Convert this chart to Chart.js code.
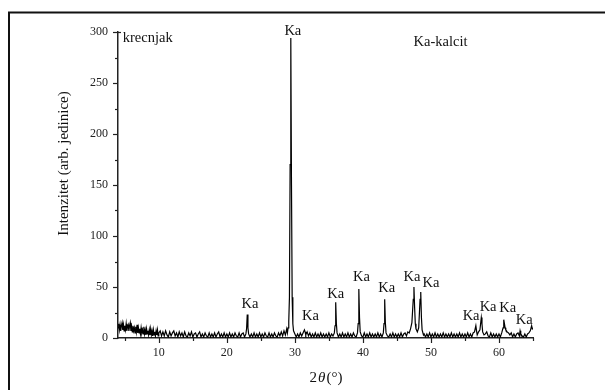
<!DOCTYPE html>
<html>
<head>
<meta charset="utf-8">
<script src="https://cdn.jsdelivr.net/npm/chart.js@4/dist/chart.umd.min.js"></script>
<style>
  html, body { margin: 0; padding: 0; background: #fff; }
  #canvas { display: block; }
</style>
</head>
<body>
<canvas id="canvas" width="605" height="390"></canvas>
<script>
// 2theta (deg), intensity (arb.)
const scanLow = [
  [4.0,10],[4.1,14],[4.2,8],[4.3,13],[4.4,7],[4.5,12],[4.6,15],[4.7,8],[4.8,13],[4.9,7],
  [5.0,12],[5.1,8],[5.2,14],[5.3,7],[5.4,11],[5.5,13],[5.6,7],[5.7,12],[5.8,15],[5.9,7],
  [6.0,11],[6.1,6],[6.2,12],[6.3,7],[6.4,10],[6.5,5],[6.6,11],[6.7,6],[6.8,13],[6.9,5],
  [7.0,10],[7.1,5],[7.2,9],[7.3,4],[7.4,10],[7.5,5],[7.6,8],[7.7,4],[7.8,11],[7.9,4],
  [8.0,8],[8.1,3],[8.2,9],[8.3,4],[8.4,7],[8.5,3],[8.6,8],[8.7,3],[8.8,9],[8.9,3],
  [9.0,7],[9.1,2],[9.2,8],[9.3,3],[9.4,6],[9.5,2],[9.6,7],[9.7,3],[9.8,8],[9.9,2]
];
const scanMid = [
  [10.0,5],[10.2,7],[10.4,2],[10.6,6],[10.8,2],[11.0,7],[11.2,3],[11.4,1],[11.6,6],[11.8,2],
  [12.0,5],[12.2,7],[12.4,2],[12.6,5],[12.8,1],[13.0,6],[13.2,2],[13.4,5],[13.6,1],[13.8,6],
  [14.0,2],[14.2,1],[14.4,5],[14.6,2],[14.8,6],[15.0,1],[15.2,4],[15.4,5],[15.6,1],[15.8,4],
  [16.0,6],[16.2,1],[16.4,4],[16.6,1],[16.8,5],[17.0,2],[17.2,1],[17.4,5],[17.6,1],[17.8,4],
  [18.0,1],[18.2,5],[18.4,1],[18.6,4],[18.8,6],[19.0,1],[19.2,4],[19.4,1],[19.6,5],[19.8,1],
  [20.0,4],[20.2,1],[20.4,5],[20.6,1],[20.8,4],[21.0,1],[21.2,5],[21.4,2],[21.6,1],[21.8,5],
  [22.0,1],[22.2,4],[22.4,5],[22.6,1],[22.8,4],[22.9,9],[23.0,23],[23.1,10],[23.2,4],[23.4,1],
  [23.6,4],[23.8,1],[24.0,5],[24.2,1],[24.4,4],[24.6,1],[24.8,5],[25.0,1],[25.2,4],[25.4,1],
  [25.6,5],[25.8,2],[26.0,1],[26.2,5],[26.4,1],[26.6,4],[26.8,1],[27.0,5],[27.2,2],[27.4,1],
  [27.6,5],[27.8,2],[28.0,6],[28.2,2],[28.4,7],[28.6,3],[28.8,9],[28.9,5],[29.0,10],[29.1,16],
  [29.2,40],[29.3,170],[29.4,294],[29.5,150],[29.6,40],[29.7,14],[29.8,7]
];
const scanHigh = [
  [30.0,4],[30.2,1],[30.4,4],[30.6,1],[30.8,5],[31.0,2],[31.2,5],[31.4,8],[31.5,6],[31.6,3],
  [31.8,6],[32.0,2],[32.2,5],[32.4,1],[32.6,4],[32.8,1],[33.0,5],[33.2,1],[33.4,4],[33.6,1],
  [33.8,5],[34.0,1],[34.2,4],[34.4,1],[34.6,4],[34.8,1],[35.0,5],[35.2,1],[35.4,4],[35.6,2],
  [35.8,5],[35.9,12],[36.0,35],[36.1,14],[36.2,5],[36.4,1],[36.6,4],[36.8,1],[37.0,5],[37.2,1],
  [37.4,4],[37.6,1],[37.8,5],[38.0,1],[38.2,4],[38.4,1],[38.6,5],[38.8,2],[39.0,1],[39.2,5],
  [39.3,14],[39.4,48],[39.5,20],[39.6,6],[39.8,2],[40.0,1],[40.2,5],[40.4,1],[40.6,4],[40.8,1],
  [41.0,5],[41.2,1],[41.4,4],[41.6,1],[41.8,4],[42.0,1],[42.2,5],[42.4,1],[42.6,4],[42.8,1],
  [43.0,5],[43.1,14],[43.2,38],[43.3,15],[43.4,5],[43.6,2],[43.8,1],[44.0,4],[44.2,1],[44.4,5],
  [44.6,1],[44.8,4],[45.0,1],[45.2,4],[45.4,1],[45.6,5],[45.8,1],[46.0,4],[46.2,5],[46.4,2],
  [46.6,6],[46.8,5],[47.0,9],[47.2,15],[47.4,38],[47.5,50],[47.6,30],[47.7,14],[47.8,9],[48.0,6],
  [48.2,10],[48.4,38],[48.5,45],[48.6,20],[48.7,8],[48.9,3],[49.0,4],[49.2,1],[49.4,4],[49.6,1],
  [49.8,5],[50.0,1],[50.2,4],[50.4,1],[50.6,5],[50.8,1],[51.0,4],[51.2,1],[51.4,4],[51.6,1],
  [51.8,5],[52.0,1],[52.2,4],[52.4,1],[52.6,4],[52.8,1],[53.0,5],[53.2,1],[53.4,4],[53.6,1],
  [53.8,4],[54.0,1],[54.2,5],[54.4,1],[54.6,4],[54.8,1],[55.0,4],[55.2,1],[55.4,5],[55.6,1],
  [55.8,4],[56.0,1],[56.2,5],[56.4,6],[56.6,12],[56.7,7],[56.8,3],[57.0,6],[57.2,8],[57.4,20],
  [57.5,14],[57.6,6],[57.8,3],[58.0,4],[58.2,6],[58.4,2],[58.6,1],[58.8,5],[59.0,1],[59.2,4],
  [59.4,1],[59.6,4],[59.8,1],[60.0,4],[60.2,1],[60.4,5],[60.6,10],[60.7,18],[60.8,14],[60.9,10],
  [61.0,8],[61.2,6],[61.4,5],[61.6,3],[61.8,5],[62.0,1],[62.2,4],[62.4,1],[62.6,4],[62.8,5],
  [63.0,2],[63.1,7],[63.2,4],[63.4,2],[63.6,1],[63.8,4],[64.0,1],[64.2,4],[64.4,5],[64.6,7],
  [64.8,12],[64.9,9],[65.0,10]
];

const xTickValues = [5,10,15,20,25,30,35,40,45,50,55,60,65];
const xTickLabels = ['', '10', '', '20', '', '30', '', '40', '', '50', '', '60', ''];
const yTickValues = [0,25,50,75,100,125,150,175,200,225,250,275,300];
const yTickLabels = ['0', '', '50', '', '100', '', '150', '', '200', '', '250', '', '300'];

const peakText = 'Ka';
const peakLabelX = [23.4, 29.7, 32.3, 36.0, 39.8, 43.5, 47.2, 50.0, 55.9, 58.4, 61.3, 63.7];
const peakLabelY = [33, 301, 21, 43, 60, 49, 60, 54, 21, 30, 29, 17];

const sampleName = 'krecnjak';
const legendNote = 'Ka-kalcit';
const yTitle = 'Intenzitet (arb. jedinice)';

const serif = '"Liberation Serif", "DejaVu Serif", serif';

const scan = scanLow.concat(scanMid, scanHigh).map(p => ({x: p[0], y: p[1]}));

const decor = {
    id: 'decor',
    beforeDraw(chart){
        const c = chart.ctx;
        c.save();
        c.strokeStyle = '#111';
        c.lineWidth = 2;
        c.strokeRect(9, 12.5, 620, 400);
        c.restore();
    },
    afterDraw(chart){
        const c = chart.ctx;
        const xs = chart.scales.x, ys = chart.scales.y;
        const area = chart.chartArea;
        c.save();
        c.strokeStyle = '#222';
        c.lineWidth = 1.2;
        // ticks: major long, minor short
        xTickValues.forEach((v, i) => {
            const px = Math.round(xs.getPixelForValue(v)) + 0.5;
            const len = xTickLabels[i] ? 5 : 3;
            c.beginPath(); c.moveTo(px, area.bottom); c.lineTo(px, area.bottom + len); c.stroke();
        });
        yTickValues.forEach((v, i) => {
            const py = Math.round(ys.getPixelForValue(v)) + 0.5;
            const len = yTickLabels[i] ? 5 : 3;
            c.beginPath(); c.moveTo(area.left, py); c.lineTo(area.left - len, py); c.stroke();
        });
        c.beginPath(); c.moveTo(area.left, area.top + 0.5); c.lineTo(area.left + 3, area.top + 0.5); c.stroke();

        c.fillStyle = '#111';
        c.font = '14.5px ' + serif;
        c.textAlign = 'center';
        c.textBaseline = 'middle';
        peakLabelX.forEach((x, i) => {
            c.fillText(peakText, xs.getPixelForValue(x), ys.getPixelForValue(peakLabelY[i]));
        });
        c.fillText(legendNote, xs.getPixelForValue(51.4), ys.getPixelForValue(290));
        c.textAlign = 'left';
        c.fillText(sampleName, xs.getPixelForValue(4.7), ys.getPixelForValue(294));

        // axis titles
        c.font = '15px ' + serif;
        c.save();
        c.translate(64, 163.5);
        c.rotate(-Math.PI / 2);
        c.textAlign = 'center';
        c.fillText(yTitle, 0, 0);
        c.restore();

        const parts = [['2', '15px ' + serif], ['\u03B8', 'italic 15px ' + serif], ['(\u00B0)', '15px ' + serif]];
        let total = 0;
        parts.forEach(p => { c.font = p[1]; total += c.measureText(p[0]).width + 1; });
        let tx = (area.left + area.right) / 2 + 1 - total / 2;
        c.textAlign = 'left';
        parts.forEach(p => {
            c.font = p[1];
            c.fillText(p[0], tx, 378);
            tx += c.measureText(p[0]).width + 1;
        });
        c.restore();
    }
};

const ctx = document.getElementById('canvas').getContext('2d');
const myChart = new Chart(ctx, {
    type: 'line',
    data: {
        datasets: [{
            data: scan,
            borderColor: '#000',
            borderWidth: 1.2,
            pointRadius: 0,
            tension: 0,
            fill: false
        }]
    },
    options: {
        responsive: false,
        animation: false,
        layout: { padding: { left: 0, right: 72, top: 32, bottom: 0 } },
        plugins: { legend: { display: false }, tooltip: { enabled: false } },
        scales: {
            x: {
                type: 'linear',
                min: 4,
                max: 65,
                afterBuildTicks: s => { s.ticks = xTickValues.map(v => ({value: v})); },
                afterFit: s => { s.height = 52; },
                grid: { display: true, drawOnChartArea: false, drawTicks: true, tickLength: 5, tickColor: 'rgba(0,0,0,0)' },
                border: { display: true, color: '#222', width: 1.5 },
                ticks: {
                    autoSkip: false,
                    maxRotation: 0,
                    padding: 3,
                    color: '#222',
                    font: { family: serif, size: 12 },
                    callback: (v, i) => xTickLabels[i]
                }
            },
            y: {
                type: 'linear',
                min: 0,
                max: 300,
                afterBuildTicks: s => { s.ticks = yTickValues.map(v => ({value: v})); },
                afterFit: s => { s.width = 118; },
                grid: { display: true, drawOnChartArea: false, drawTicks: true, tickLength: 5, tickColor: 'rgba(0,0,0,0)' },
                border: { display: true, color: '#222', width: 1.5 },
                ticks: {
                    autoSkip: false,
                    padding: 5,
                    color: '#222',
                    font: { family: serif, size: 12 },
                    callback: (v, i) => yTickLabels[i]
                }
            }
        }
    },
    plugins: [decor]
});
</script>
</body>
</html>
